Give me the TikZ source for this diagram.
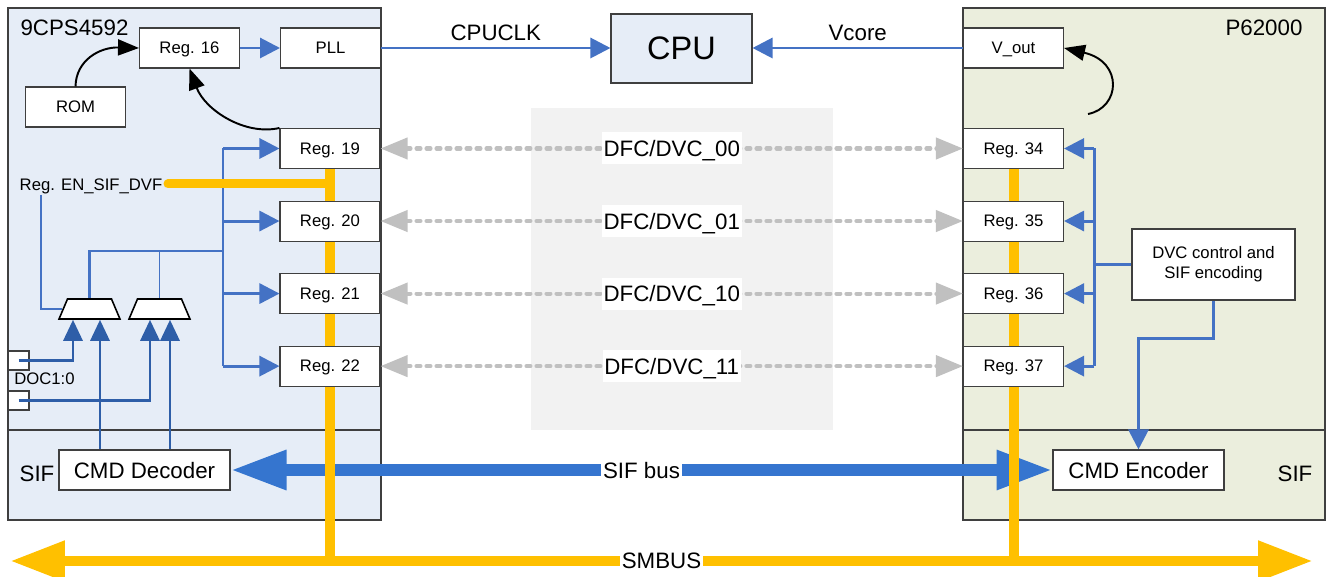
\documentclass[tikz,border=0pt]{standalone}
\usepackage{fontspec}
\setmainfont{Liberation Sans}
\usetikzlibrary{positioning, arrows.meta, shapes.geometric}

\definecolor{chipblue}{HTML}{E6EDF7}
\definecolor{chipgreen}{HTML}{EBEEDD}
\definecolor{midgray}{HTML}{F2F2F2}
\definecolor{edgegray}{HTML}{3F3F3F}
\definecolor{linkblue}{HTML}{4472C4}
\definecolor{darkblue}{HTML}{2E5EA8}
\definecolor{busblue}{HTML}{3575CF}
\definecolor{busyellow}{HTML}{FFC000}
\definecolor{dashgray}{HTML}{C0C0C0}

\pgfdeclarelayer{chips}
\pgfdeclarelayer{wires}
\pgfsetlayers{chips,wires,main}

\newcommand{\regfont}{\fontsize{9.5}{11.4}\selectfont}
\newcommand{\busfont}{\fontsize{12.7}{15}\selectfont}
\newcommand{\cpufont}{\fontsize{18.5}{22}\selectfont}

\tikzset{
  regbox/.style={draw=edgegray, line width=0.6pt, fill=white, minimum width=2cm,
    minimum height=0.8cm, inner sep=0pt, text depth=0pt, font=\regfont},
  bigbox/.style={regbox, minimum width=3.42cm, font=\busfont},
  muxbox/.style={trapezium, trapezium angle=60, trapezium stretches=true, draw=black,
    line width=0.9pt, fill=white, minimum width=1.22cm, minimum height=0.4cm, inner sep=0pt,
    text width=0.3cm, text height=0.1cm, text depth=0pt},
  docbox/.style={draw=edgegray, line width=0.6pt, fill=white, minimum width=0.42cm,
    minimum height=0.38cm, inner sep=0pt},
  link/.style={linkblue, line width=1.7pt},
  linkarrow/.style={link, -{Triangle[length=0.4cm, width=0.4cm]}},
  thinlink/.style={linkblue, line width=1.1pt},
  muxarrow/.style={darkblue, line width=1.7pt, -{Triangle[length=0.42cm, width=0.38cm]}},
  ctrl/.style={black, line width=1.1pt, -{Triangle[length=0.42cm, width=0.32cm]}},
  dfc/.style={dashgray, line width=2.3pt, line cap=round, dash pattern=on 0.08cm off 0.12cm,
    {Triangle[length=0.54cm, width=0.42cm]}-{Triangle[length=0.54cm, width=0.42cm]}},
  dfclabel/.style={fill=white, text=black, inner xsep=1pt, inner ysep=0pt, minimum height=0.64cm,
    text depth=0pt, font=\busfont},
  sifbus/.style={busblue, line width=0.24cm,
    {Triangle[length=1.12cm, width=0.74cm]}-{Triangle[length=1.12cm, width=0.74cm]}},
  smbus/.style={busyellow, line width=0.22cm,
    {Triangle[length=1.1cm, width=0.76cm]}-{Triangle[length=1.1cm, width=0.76cm]}},
  yline/.style={busyellow, line width=0.2cm},
  buslabel/.style={fill=white, text=black, inner sep=1pt, text depth=0pt, font=\busfont},
  siglabel/.style={above, text=black, font=\busfont},
}

\begin{document}
\begin{tikzpicture}[x=0.02cm, y=-0.02cm]
\useasboundingbox (0,0) rectangle (1326,577);

% 9CPS4592 side
\node (reg16) [regbox] at (189.5,48) {Reg. 16};
\node (pll) [regbox, right=0.8cm of reg16] {PLL};
\node (rom) [regbox] at (75.5,107) {ROM};
\node (reg19) [regbox] at (330,148.5) {Reg. 19};
\node (reg20) [regbox, below=0.63cm of reg19] {Reg. 20};
\node (reg21) [regbox, below=0.63cm of reg20] {Reg. 21};
\node (reg22) [regbox, below=0.63cm of reg21] {Reg. 22};
\node (cmddec) [bigbox] at (144.5,470) {CMD Decoder};
\node (mux1) [muxbox] at (89.5,309) {};
\node (mux2) [muxbox] at (159.5,309) {};
\node (doc0) [docbox] at (18.5,360.5) {};
\node (doc1) [docbox] at (18.5,400.5) {};
\node (cps) [anchor=base, font=\busfont] at (74.5,35.7) {9CPS4592};
\node (en) [anchor=base, inner sep=0pt, font=\regfont] at (91,191) {Reg. EN\_SIF\_DVF};
\node (doclbl) [anchor=base, font=\regfont] at (44.5,385) {DOC1:0};
\node (sifl) [anchor=base, font=\busfont] at (37,481.7) {SIF};

\node (cpu) [draw=edgegray, line width=0.6pt, fill=chipblue, minimum width=2.82cm,
  minimum height=1.38cm, font=\cpufont] at (681.5,48.5) {CPU};

% P62000 side
\node (vout) [regbox] at (1013.5,48) {V\_out};
\node (reg34) [regbox] at (1013.5,148.5) {Reg. 34};
\node (reg35) [regbox, below=0.63cm of reg34] {Reg. 35};
\node (reg36) [regbox, below=0.63cm of reg35] {Reg. 36};
\node (reg37) [regbox, below=0.63cm of reg36] {Reg. 37};
\node (dvc) [draw=edgegray, line width=0.6pt, fill=white, minimum width=3.26cm,
  minimum height=1.42cm, align=center, font=\regfont] at (1213.5,264.5) {DVC control and\\SIF encoding};
\node (cmdenc) [bigbox] at (1138.5,470) {CMD Encoder};
\node (p62) [anchor=base, font=\busfont] at (1264,35.7) {P62000};
\node (sifr) [anchor=base, font=\busfont] at (1295,481.7) {SIF};

\coordinate (tl) at (223,148.5);
\coordinate (mj) at (223,251);
\coordinate (tr) at (1094,148.5);
\coordinate (enend) at (168,184);
\coordinate (arcs) at (1088,114);
\coordinate (smL) at (10,561);
\coordinate (smR) at (1313,561);
\coordinate (m1a) at ([xshift=-0.33cm]mux1.south);
\coordinate (m1b) at ([xshift=0.21cm]mux1.south);
\coordinate (m2a) at ([xshift=-0.19cm]mux2.south);
\coordinate (m2b) at ([xshift=0.21cm]mux2.south);

\begin{pgfonlayer}{chips}
  \draw[edgegray, line width=0.6pt, fill=chipblue] (8,8) rectangle (381,520);
  \draw[edgegray, line width=0.6pt] (8,430) -- (381,430);
  \draw[edgegray, line width=0.6pt, fill=chipgreen] (963,8) rectangle (1325,520);
  \draw[edgegray, line width=0.6pt] (963,430) -- (1325,430);
  \fill[midgray] (531,108) rectangle (833,430);
\end{pgfonlayer}

\begin{pgfonlayer}{wires}
  % blue control lines
  \draw[linkarrow] (reg16) -- (pll);
  \draw[linkarrow] (pll.east) -- (pll.east -| cpu.west) node[midway, siglabel] {CPUCLK};
  \draw[linkarrow] (vout.west) -- (vout.west -| cpu.east) node[midway, siglabel] {Vcore};
  \draw[link] (tl |- reg22.west) -- (tl);
  \foreach \r in {19,20,21,22}
    \draw[linkarrow] (tl |- reg\r.west) -- (reg\r.west);
  \draw[link] (mj) -| (mux1.north);
  \draw[thinlink] (mj -| mux2.north) -- (mux2.north);
  \draw[thinlink] ([xshift=-1cm]en.south) |- (mux1.west);
  \draw[link] (tr |- reg37.east) -- (tr);
  \foreach \r in {34,35,36,37}
    \draw[linkarrow] (tr |- reg\r.east) -- (reg\r.east);
  \draw[link] (dvc.west) -- (dvc.west -| tr);
  \draw[linkarrow] (dvc.south) -- ++(0,38) -| (cmdenc.north);
  % buses
  \draw[sifbus] (cmddec.east) -- (cmdenc.west) node[midway, buslabel] {SIF bus};
  \draw[yline] (reg19.south) -- (reg19.south |- smL);
  \draw[yline] (reg34.south) -- (reg34.south |- smL);
  \draw[yline, line width=0.18cm, line cap=round] (enend) -- (enend -| reg19.south);
  \draw[smbus] (smL) -- (smR) node[midway, buslabel] {SMBUS};
\end{pgfonlayer}

\draw[ctrl] (rom.north) .. controls (76,60) and (100,47) .. (reg16.west);
\draw[ctrl] (reg19.north west) .. controls (245,136) and (205,110) .. (reg16.south);
\draw[ctrl] (arcs) .. controls (1120,108) and (1124,62) .. (vout.east);

\foreach \a/\b/\t in {19/34/00, 20/35/01, 21/36/10, 22/37/11}
  \draw[dfc] (reg\a.east) -- (reg\b.west) node[midway, dfclabel] {DFC/DVC\_\t};

\draw[muxarrow] (doc0.center) -| (m1a);
\draw[muxarrow] (doc1.center) -| (m2a);
\draw[muxarrow] (m1b |- cmddec.north) -- (m1b);
\draw[muxarrow] (m2b |- cmddec.north) -- (m2b);
\end{tikzpicture}
\end{document}
